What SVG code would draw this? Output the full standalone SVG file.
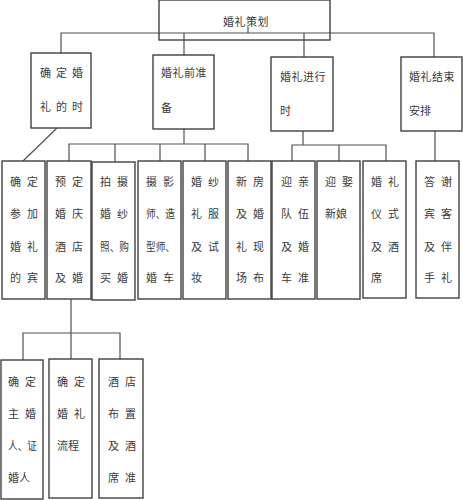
<svg xmlns="http://www.w3.org/2000/svg" width="463" height="500" viewBox="0 0 463 500">
<style>
rect{fill:#fff;stroke:#404040;stroke-width:1.4}
text{font-family:"Noto Sans CJK SC","Liberation Sans",sans-serif;font-size:11px;fill:#3a3a3a}
.s{letter-spacing:6px}
.m{letter-spacing:5px}
.t{letter-spacing:0.5px}
#connectors line,#connectors polyline{stroke:#505050;stroke-width:1.2;fill:none}
</style>
<rect width="463" height="500" style="fill:#fff;stroke:none"/>
<g id="connectors">
<polyline points="61,53 61,33 434,33 434,57"/>
<line x1="248" y1="27" x2="248" y2="33"/>
<line x1="184" y1="33" x2="184" y2="55"/>
<line x1="304" y1="33" x2="304" y2="57"/>
<line x1="57" y1="128" x2="23" y2="161"/>
<line x1="184" y1="129" x2="184" y2="144"/>
<polyline points="69,161 69,144 248,144 248,161"/>
<line x1="115" y1="144" x2="115" y2="162"/>
<line x1="160" y1="144" x2="160" y2="161"/>
<line x1="205" y1="144" x2="205" y2="161"/>
<line x1="303" y1="131" x2="303" y2="145"/>
<polyline points="292,161 292,145 386,145 386,161"/>
<line x1="339" y1="145" x2="339" y2="161"/>
<line x1="435" y1="131" x2="435" y2="161"/>
<line x1="71" y1="299" x2="71" y2="333"/>
<polyline points="23,360 23,333 120,333 120,359"/>
<line x1="71" y1="333" x2="71" y2="359"/>
</g>
<g id="root"><rect x="159" y="0" width="171" height="40" style="fill:none"/><text x="223" y="26" class="t">婚礼策划</text></g>
<g id="n-a"><rect x="31" y="53" width="60" height="75"/><text x="40" y="77" class="m">确定婚</text><text x="40" y="111" class="m">礼的时</text></g>
<g id="n-b"><rect x="153" y="55" width="61" height="74"/><text x="161" y="77" class="t">婚礼前准</text><text x="161" y="112">备</text></g>
<g id="n-c"><rect x="271" y="57" width="62" height="74"/><text x="280" y="81" class="t">婚礼进行</text><text x="280" y="115">时</text></g>
<g id="n-d"><rect x="401" y="57" width="61" height="74"/><text x="409" y="81" class="t">婚礼结束</text><text x="409" y="115">安排</text></g>
<g id="n-e"><rect x="2" y="161" width="43" height="138"/><text x="10" y="186" class="s">确定</text><text x="10" y="218" class="s">参加</text><text x="10" y="251" class="s">婚礼</text><text x="10" y="282" class="s">的宾</text></g>
<g id="n-f"><rect x="47" y="161" width="44" height="138"/><text x="55" y="186" class="s">预定</text><text x="55" y="218" class="s">婚庆</text><text x="55" y="251" class="s">酒店</text><text x="55" y="282" class="s">及婚</text></g>
<g id="n-g"><rect x="92" y="162" width="43" height="138"/><text x="100" y="186" class="s">拍摄</text><text x="100" y="218" class="s">婚纱</text><text x="100" y="251" textLength="29" lengthAdjust="spacingAndGlyphs">照、购</text><text x="100" y="282" class="s">买婚</text></g>
<g id="n-h"><rect x="138" y="161" width="43" height="138"/><text x="146" y="186" class="s">摄影</text><text x="146" y="218" textLength="29" lengthAdjust="spacingAndGlyphs">师、造</text><text x="146" y="251" textLength="29" lengthAdjust="spacingAndGlyphs">型师、</text><text x="146" y="282" class="s">婚车</text></g>
<g id="n-i"><rect x="183" y="161" width="43" height="138"/><text x="191" y="186" class="s">婚纱</text><text x="191" y="218" class="s">礼服</text><text x="191" y="251" class="s">及试</text><text x="191" y="282">妆</text></g>
<g id="n-j"><rect x="228" y="161" width="43" height="138"/><text x="236" y="186" class="s">新房</text><text x="236" y="218" class="s">及婚</text><text x="236" y="251" class="s">礼现</text><text x="236" y="282" class="s">场布</text></g>
<g id="n-k"><rect x="272" y="161" width="43" height="138"/><text x="281" y="186" class="s">迎亲</text><text x="281" y="218" class="s">队伍</text><text x="281" y="251" class="s">及婚</text><text x="281" y="282" class="s">车准</text></g>
<g id="n-l"><rect x="317" y="161" width="43" height="138"/><text x="325" y="186" class="s">迎娶</text><text x="325" y="218">新娘</text></g>
<g id="n-m"><rect x="363" y="161" width="43" height="137"/><text x="371" y="186" class="s">婚礼</text><text x="371" y="218" class="s">仪式</text><text x="371" y="251" class="s">及酒</text><text x="371" y="282">席</text></g>
<g id="n-n"><rect x="416" y="161" width="43" height="137"/><text x="424" y="186" class="s">答谢</text><text x="424" y="218" class="s">宾客</text><text x="424" y="251" class="s">及伴</text><text x="424" y="282" class="s">手礼</text></g>
<g id="n-o"><rect x="1" y="360" width="42" height="139"/><text x="8" y="386" class="s">确定</text><text x="8" y="418" class="s">主婚</text><text x="8" y="450" textLength="29" lengthAdjust="spacingAndGlyphs">人、证</text><text x="8" y="482">婚人</text></g>
<g id="n-p"><rect x="49" y="359" width="43" height="139"/><text x="57" y="386" class="s">确定</text><text x="57" y="418" class="s">婚礼</text><text x="57" y="450">流程</text></g>
<g id="n-q"><rect x="99" y="359" width="44" height="139"/><text x="108" y="386" class="s">酒店</text><text x="108" y="418" class="s">布置</text><text x="108" y="450" class="s">及酒</text><text x="108" y="482" class="s">席准</text></g>
</svg>
